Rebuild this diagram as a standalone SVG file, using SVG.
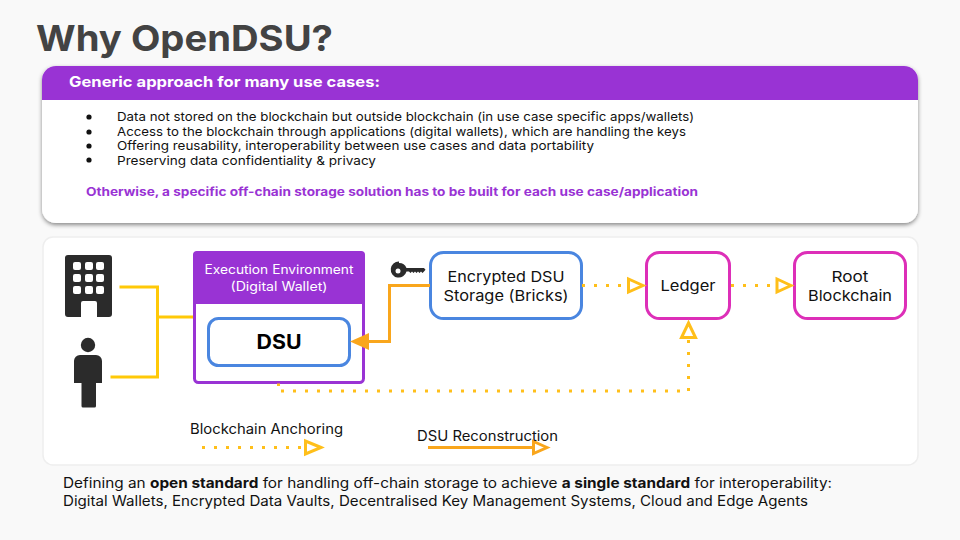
<svg xmlns="http://www.w3.org/2000/svg" width="960" height="540" viewBox="0 0 960 540">
<defs>
<filter id="sh" x="-5%" y="-10%" width="110%" height="125%"><feDropShadow dx="0" dy="2" stdDeviation="2" flood-color="#000" flood-opacity="0.45"/></filter>
</defs>
<style>
text{font-family:"Inter","Noto Sans",sans-serif;fill:#111}
.b{font-size:12px}
.n{font-size:15px;text-anchor:middle}
.w{fill:#fff;font-size:12.5px}
.box{fill:#fff;stroke-width:3}
.y{fill:none;stroke:#ffc907;stroke-width:3}
.o{fill:none;stroke:#f9a61c;stroke-width:3}
.d{fill:none;stroke:#ffbf1a;stroke-width:3;stroke-dasharray:3 9}
.hy{fill:#fff;stroke:#ffbf1a;stroke-width:3}
.ho{fill:#fff;stroke:#f9a61c;stroke-width:3}
.i{fill:#2b2b2b}
</style>
<rect width="960" height="540" fill="#f9f9f9"/>
<text x="36" y="51" font-size="36" font-weight="700" style="fill:#434343" textLength="297" lengthAdjust="spacingAndGlyphs">Why OpenDSU?</text>

<g id="panel-top">
<rect x="42" y="66" width="876" height="157" rx="14" fill="#fff" filter="url(#sh)"/>
<path d="M42 100V80a14 14 0 0 1 14-14H904a14 14 0 0 1 14 14V100Z" fill="#9933d4"/>
<text x="69" y="87" font-size="14.500" font-weight="700" style="fill:#fff" textLength="311" lengthAdjust="spacingAndGlyphs">Generic approach for many use cases:</text>
<circle cx="89" cy="117" r="2.600" fill="#111"/><circle cx="89" cy="132" r="2.600" fill="#111"/><circle cx="89" cy="146" r="2.600" fill="#111"/><circle cx="89" cy="160" r="2.600" fill="#111"/>
<text class="b" x="117" y="121" textLength="577" lengthAdjust="spacingAndGlyphs">Data not stored on the blockchain but outside blockchain (in use case specific apps/wallets)</text>
<text class="b" x="117" y="136" textLength="569" lengthAdjust="spacingAndGlyphs">Access to the blockchain through applications (digital wallets), which are handling the keys</text>
<text class="b" x="117" y="150" textLength="477" lengthAdjust="spacingAndGlyphs">Offering reusability, interoperability between use cases and data portability</text>
<text class="b" x="117" y="165" textLength="259" lengthAdjust="spacingAndGlyphs">Preserving data confidentiality &amp; privacy</text>
<text x="86" y="196" font-size="12" font-weight="700" style="fill:#9933d4" textLength="612" lengthAdjust="spacingAndGlyphs">Otherwise, a specific off-chain storage solution has to be built for each use case/application</text>
</g>

<g id="panel-bottom"><rect x="43" y="237" width="875" height="228" rx="10" fill="#fff" stroke="#eee" stroke-width="1.500"/></g>

<g id="building"><path class="i" d="M68 255H109a3 3 0 0 1 3 3V314a3 3 0 0 1-3 3H97V303a2 2 0 0 0-2-2H83a2 2 0 0 0-2 2V317H68a3 3 0 0 1-3-3V258a3 3 0 0 1 3-3Z"/>
<g fill="#fff"><rect x="73" y="262" width="8" height="8" rx="2"/><rect x="85" y="262" width="8" height="8" rx="2"/><rect x="96" y="262" width="8" height="8" rx="2"/><rect x="73" y="274" width="8" height="8" rx="2"/><rect x="85" y="274" width="8" height="8" rx="2"/><rect x="96" y="274" width="8" height="8" rx="2"/><rect x="73" y="286" width="8" height="8" rx="2"/><rect x="85" y="286" width="8" height="8" rx="2"/><rect x="96" y="286" width="8" height="8" rx="2"/></g></g>
<g id="person"><circle class="i" cx="88" cy="345" r="7.200"/><path class="i" d="M80 355H96a6 6 0 0 1 6 6V383H96V406a1.500 1.500 0 0 1-1.500 1.500H83a1.500 1.500 0 0 1-1.500-1.500V383H74V361a6 6 0 0 1 6-6Z"/></g>
<g id="key"><path class="i" d="M399 263a8 8 0 0 1 7.500 5H424l1.500 1.800-1.500 1.800-1.500 1.400-1.500-1.400-1.500 1.400-1.500-1.400-1.500 1.400-1.500-1.400-1.500 1.400-1.500-1.400-1.500 1.400-1.500-1.400H406.500a8 8 0 1 1-7.500-10Z"/><circle cx="398" cy="271" r="2.500" fill="#fff"/></g>

<g id="exec-env">
<rect x="194.500" y="252.500" width="169" height="130" rx="4" fill="#fff" stroke="#9933d4" stroke-width="3"/>
<path d="M193 304V255a4 4 0 0 1 4-4H361a4 4 0 0 1 4 4V304Z" fill="#9933d4"/>
<text class="n w" x="279" y="274" textLength="149" lengthAdjust="spacingAndGlyphs">Execution Environment</text>
<text class="n w" x="279" y="291" textLength="97" lengthAdjust="spacingAndGlyphs">(Digital Wallet)</text>
</g>
<g id="dsu"><rect class="box" x="208.500" y="318.500" width="141" height="47" rx="10" stroke="#4a86e0"/><text class="n" x="279" y="349" font-weight="700" style="font-size:20px;fill:#000" textLength="45" lengthAdjust="spacingAndGlyphs">DSU</text></g>
<g id="storage"><rect class="box" x="430.500" y="252.500" width="151" height="66" rx="13" stroke="#4a86e0"/><text class="n" x="506" y="282" textLength="117" lengthAdjust="spacingAndGlyphs">Encrypted DSU</text><text class="n" x="506" y="301" textLength="125" lengthAdjust="spacingAndGlyphs">Storage (Bricks)</text></g>
<g id="ledger"><rect class="box" x="646.500" y="252.500" width="83" height="66" rx="13" stroke="#dd2fb8"/><text class="n" x="688" y="291" textLength="55" lengthAdjust="spacingAndGlyphs">Ledger</text></g>
<g id="root"><rect class="box" x="794.500" y="252.500" width="111" height="66" rx="13" stroke="#dd2fb8"/><text class="n" x="850" y="282" textLength="37" lengthAdjust="spacingAndGlyphs">Root</text><text class="n" x="850" y="301" textLength="84" lengthAdjust="spacingAndGlyphs">Blockchain</text></g>

<g id="connectors">
<path class="y" d="M119.500 287H157.500V377H110.500"/>
<path class="y" d="M157.500 317H193"/>
<path class="o" d="M430 285.500H389.500V341.500H368"/>
<path d="M350 341.500L369 333V350Z" fill="#f9a61c"/>
<path d="M278.500 383.500V386" fill="none" stroke="#ffbf1a" stroke-width="3"/>
<path class="d" d="M281 391H680"/>
<path class="d" d="M688.500 391V338"/>
<path d="M688.500 323L695.500 337.500H681.500Z" class="hy"/>
<path class="d" d="M582 285.500H625"/>
<path d="M643 285.500L628.500 279V292Z" class="hy"/>
<path class="d" d="M731 285.500H776"/>
<path d="M791 285.500L777 279V292Z" class="hy"/>
<path class="d" d="M202 447.500H303"/>
<path d="M321 447.500L305.500 441V454Z" class="hy"/>
<path class="o" d="M428 447.500H533"/>
<path d="M547 447.500L533.500 441.500V453.500Z" class="ho"/>
</g>

<text x="190" y="434" font-size="14" textLength="153" lengthAdjust="spacingAndGlyphs">Blockchain Anchoring</text>
<text x="417" y="441" font-size="14" textLength="141" lengthAdjust="spacingAndGlyphs">DSU Reconstruction</text>

<text x="63" y="488" font-size="14" textLength="769" lengthAdjust="spacingAndGlyphs">Defining an <tspan font-weight="700">open standard</tspan> for handling off-chain storage to achieve <tspan font-weight="700">a single standard</tspan> for interoperability:</text>
<text x="63" y="506" font-size="14" textLength="745" lengthAdjust="spacingAndGlyphs">Digital Wallets, Encrypted Data Vaults, Decentralised Key Management Systems, Cloud and Edge Agents</text>
</svg>
